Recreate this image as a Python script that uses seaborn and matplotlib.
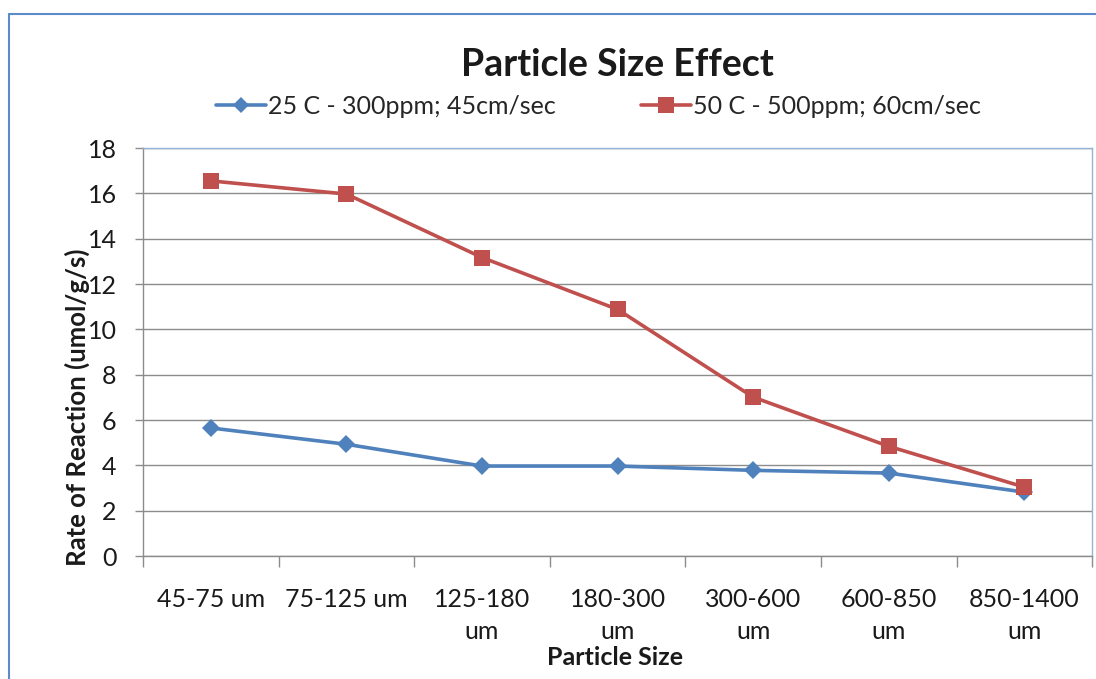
import textwrap
import numpy as np
import pandas as pd
import matplotlib
matplotlib.use("Agg")
import matplotlib.pyplot as plt
from matplotlib.lines import Line2D
import seaborn as sns

# Particle size ranges and measured rates of reaction
particle_sizes = ["45-75 um", "75-125 um", "125-180 um", "180-300 um",
                  "300-600 um", "600-850 um", "850-1400 um"]
rate_25c = [5.65, 4.93, 3.97, 3.97, 3.78, 3.66, 2.82]
rate_50c = [16.55, 15.97, 13.17, 10.88, 7.01, 4.84, 3.04]
series_names = ["25 C - 300ppm; 45cm/sec", "50 C - 500ppm; 60cm/sec"]
y_ticks = [0, 2, 4, 6, 8, 10, 12, 14, 16, 18]

df = pd.concat([
    pd.DataFrame({"size": particle_sizes, "rate": rate_25c, "series": series_names[0]}),
    pd.DataFrame({"size": particle_sizes, "rate": rate_50c, "series": series_names[1]}),
])
df["pos"] = df["size"].map({s: i for i, s in enumerate(particle_sizes)})

sns.set_theme(style="white")
plt.rcParams["font.family"] = ["Lato", "DejaVu Sans"]

BLUE = "#4F81BD"
RED = "#C0504D"
GRID = "#8C8C8C"
TEXT = "#1A1A1A"

fig = plt.figure(figsize=(10.96, 6.79), dpi=100)
ax = fig.add_axes([0.1305, 0.1811, 0.866, 0.6009])

sns.lineplot(data=df, x="pos", y="rate", hue="series", style="series",
             palette=[BLUE, RED], markers=["D", "s"], dashes=False,
             linewidth=2.6, ax=ax, legend=False, zorder=3)
# marker sizes per series
for line, ms in zip(ax.lines, [9, 12]):
    line.set_markersize(ms)
    line.set_markeredgewidth(0)

ax.set_xlim(-0.5, len(particle_sizes) - 0.5)
ax.set_ylim(0, 18)
ax.set_yticks(y_ticks)
ax.yaxis.grid(True, color=GRID, linewidth=1.0)
ax.xaxis.grid(False)

# category labels centred, tick marks on boundaries
ax.set_xticks(np.arange(len(particle_sizes)))
ax.set_xticklabels([textwrap.fill(s, 9) for s in particle_sizes],
                   fontsize=18, linespacing=1.45, color=TEXT, va="top")
ax.set_xticks(np.arange(-0.5, len(particle_sizes)), minor=True)
ax.tick_params(axis="x", which="major", length=0, pad=23)
ax.tick_params(axis="x", which="minor", length=8, width=1, color=GRID,
               direction="out", bottom=True)
ax.tick_params(axis="y", length=6, width=1, color=GRID, direction="out",
               left=True, labelsize=18, labelcolor=TEXT, pad=13)

ax.set_xlabel("")
ax.set_ylabel("")
for side in ["left", "bottom"]:
    ax.spines[side].set_color(GRID)
    ax.spines[side].set_linewidth(1.0)
for side in ["top", "right"]:
    ax.spines[side].set_color("#95B3D7")
    ax.spines[side].set_linewidth(1.0)

fig.text(0.563, 0.904, "Particle Size Effect", ha="center", va="center",
         fontsize=27, fontweight="bold", color=TEXT)
fig.text(0.561, 0.032, "Particle Size", ha="center", va="center",
         fontsize=18, fontweight="bold", color=TEXT)
fig.text(0.071, 0.40, "Rate of Reaction (umol/g/s)", ha="center", va="center",
         rotation=90, fontsize=18.5, fontweight="bold", color=TEXT)

handles = [
    Line2D([], [], color=BLUE, linewidth=2.6, marker="D", markersize=8, markeredgewidth=0),
    Line2D([], [], color=RED, linewidth=2.6, marker="s", markersize=11, markeredgewidth=0),
]
fig.legend(handles, series_names, loc="center", bbox_to_anchor=(0.546, 0.843),
           ncol=2, frameon=False, fontsize=18, handlelength=2.0,
           handletextpad=0.1, columnspacing=3.4)

# outer chart frame
frame_kw = dict(color="#5B8BC8", linewidth=1.5, transform=fig.transFigure)
fig.add_artist(Line2D([9 / 1096, 9 / 1096], [0, 1 - 14 / 679], **frame_kw))
fig.add_artist(Line2D([9 / 1096, 1], [1 - 14 / 679, 1 - 14 / 679], **frame_kw))

fig.savefig("out.png", dpi=100)
